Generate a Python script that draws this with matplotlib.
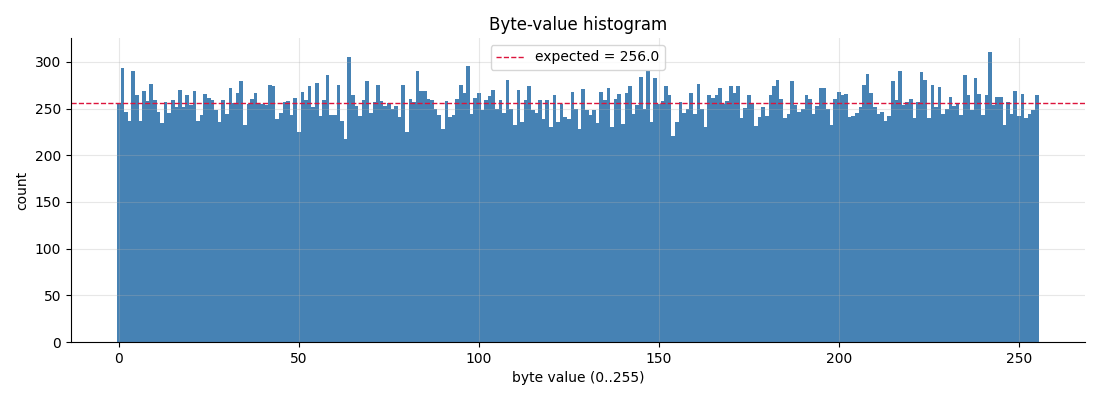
import matplotlib
matplotlib.use("Agg")
import matplotlib.pyplot as plt
import numpy as np

# counts per byte value
byte_values = np.arange(256)
counts = [
    256, 293, 246, 237, 290, 264, 237, 269, 258, 276, 259, 246, 235, 257, 245, 259,
    252, 270, 252, 265, 254, 269, 237, 243, 266, 261, 259, 248, 236, 259, 244, 272,
    256, 267, 279, 232, 255, 260, 267, 255, 255, 254, 275, 274, 239, 245, 257, 258,
    243, 261, 225, 268, 259, 274, 252, 277, 242, 259, 286, 243, 243, 275, 237, 217,
    305, 264, 253, 242, 259, 279, 245, 257, 275, 258, 253, 256, 250, 253, 241, 275,
    225, 260, 257, 290, 269, 269, 260, 259, 249, 243, 228, 258, 241, 243, 260, 275,
    267, 296, 244, 261, 267, 248, 259, 263, 270, 250, 259, 245, 281, 249, 232, 270,
    236, 259, 274, 248, 245, 259, 239, 259, 230, 264, 236, 255, 241, 239, 268, 249,
    228, 271, 248, 243, 248, 234, 268, 259, 272, 230, 260, 266, 233, 267, 274, 244,
    254, 284, 250, 290, 236, 283, 255, 258, 274, 265, 221, 236, 257, 245, 249, 267,
    244, 276, 250, 230, 264, 261, 264, 272, 255, 258, 274, 267, 274, 240, 251, 264,
    256, 231, 241, 252, 242, 264, 274, 280, 260, 240, 244, 279, 254, 246, 249, 265,
    260, 244, 253, 272, 272, 249, 232, 260, 268, 265, 266, 241, 242, 245, 252, 275,
    287, 267, 252, 244, 246, 237, 242, 279, 259, 290, 254, 257, 260, 240, 257, 289,
    280, 240, 275, 252, 273, 244, 249, 262, 253, 255, 243, 286, 265, 248, 283, 266,
    243, 264, 310, 254, 262, 262, 232, 257, 244, 269, 242, 266, 240, 244, 248, 265,
]
expected = 256.0

fig, ax = plt.subplots(figsize=(11, 4), dpi=100)
fig.subplots_adjust(left=0.0645, right=0.986, top=0.905, bottom=0.145)

ax.bar(byte_values, counts, width=1.0, color="steelblue", linewidth=0)
ax.axhline(expected, color="crimson", linestyle="--", linewidth=1,
           label=f"expected = {expected}")

ax.set_title("Byte-value histogram")
ax.set_xlabel("byte value (0..255)")
ax.set_ylabel("count")
ax.grid(alpha=0.3)
ax.spines["top"].set_visible(False)
ax.spines["right"].set_visible(False)
ax.legend(loc="upper center")

plt.savefig("out.png")
plt.close()
